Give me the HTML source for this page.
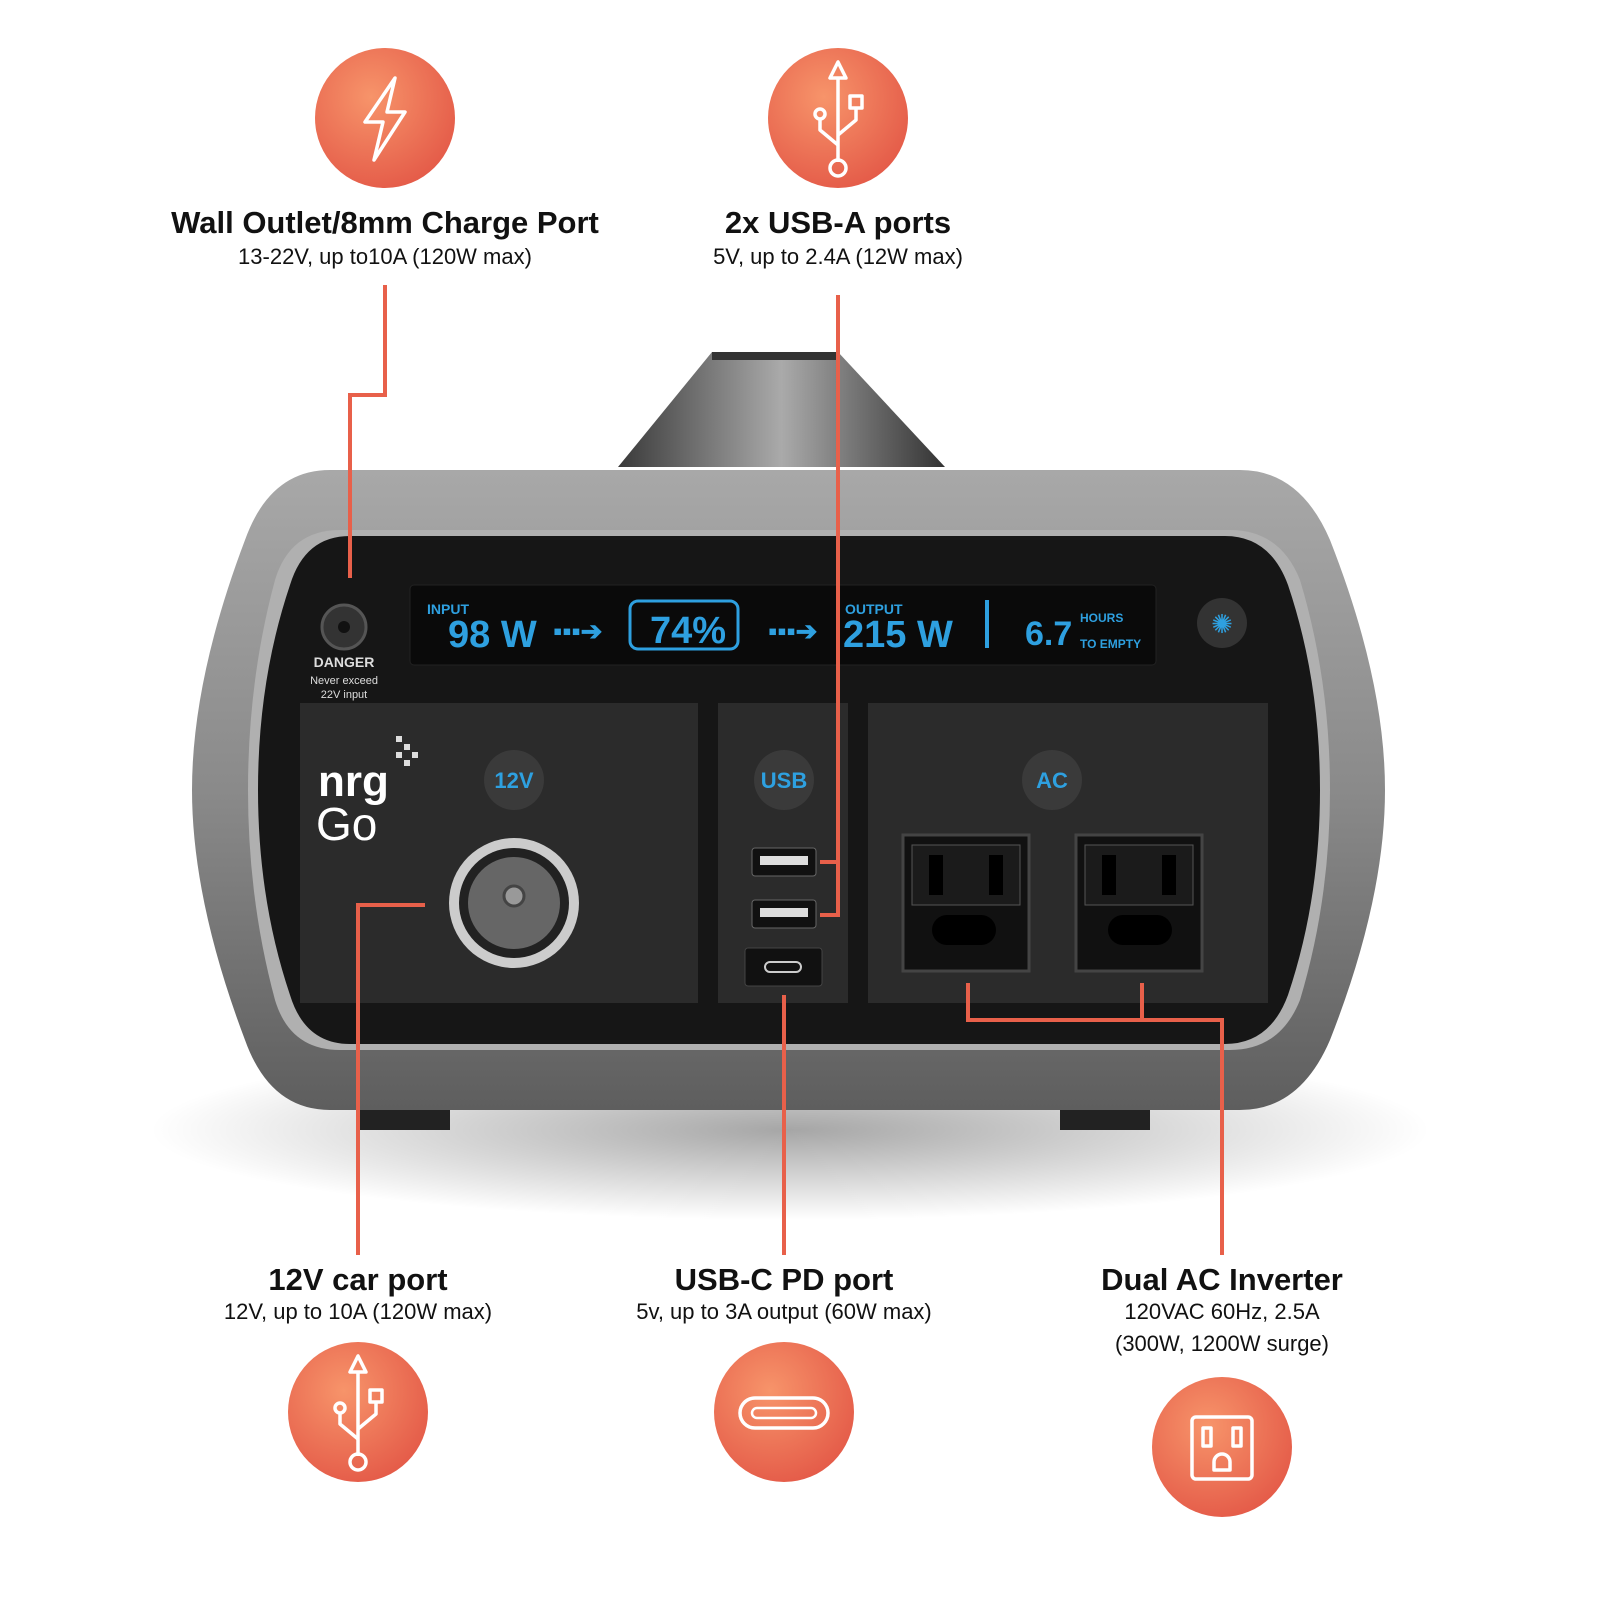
<!DOCTYPE html>
<html><head><meta charset="utf-8"><style>
html,body{margin:0;padding:0;background:#fff;}
svg{display:block}
text{font-family:"Liberation Sans",sans-serif;}
</style></head><body>
<svg width="1600" height="1600" viewBox="0 0 1600 1600" xmlns="http://www.w3.org/2000/svg">
<defs>
<radialGradient id="og" cx="40%" cy="35%" r="70%"><stop offset="0" stop-color="#f7946a"/><stop offset="1" stop-color="#e45a48"/></radialGradient>
<linearGradient id="body" x1="0" y1="0" x2="0" y2="1"><stop offset="0" stop-color="#a8a8a8"/><stop offset="0.5" stop-color="#8a8a8a"/><stop offset="1" stop-color="#5e5e5e"/></linearGradient>
<linearGradient id="handle" x1="0" y1="0" x2="1" y2="0"><stop offset="0" stop-color="#3a3a3a"/><stop offset="0.5" stop-color="#aaa"/><stop offset="1" stop-color="#333"/></linearGradient>
<radialGradient id="shadow" cx="50%" cy="50%" r="50%"><stop offset="0" stop-color="#000" stop-opacity="0.35"/><stop offset="1" stop-color="#000" stop-opacity="0"/></radialGradient>
</defs>

<ellipse cx="790" cy="1130" rx="640" ry="90" fill="url(#shadow)"/>

<polygon points="712,352 838,352 945,467 618,467" fill="url(#handle)"/>
<polygon points="712,352 838,352 838,360 712,360" fill="#333"/>

<path d="M330,470 L1240,470 Q1300,470 1330,540 Q1385,680 1385,790 Q1385,900 1330,1040 Q1300,1110 1240,1110 L330,1110 Q270,1110 245,1040 Q192,900 192,790 Q192,680 245,540 Q270,470 330,470 Z" fill="url(#body)"/>
<path d="M340,530 L1230,530 Q1280,530 1300,580 Q1330,680 1330,790 Q1330,900 1300,1000 Q1280,1050 1230,1050 L340,1050 Q290,1050 275,1000 Q248,900 248,790 Q248,680 275,580 Q290,530 340,530 Z" fill="#b0b0b0"/>
<path d="M350,536 L1225,536 Q1270,536 1288,585 Q1320,680 1320,790 Q1320,900 1288,995 Q1270,1044 1225,1044 L350,1044 Q305,1044 290,995 Q258,900 258,790 Q258,680 290,585 Q305,536 350,536 Z" fill="#161616"/>

<rect x="300" y="703" width="398" height="300" fill="#2b2b2b"/>
<rect x="718" y="703" width="130" height="300" fill="#2b2b2b"/>
<rect x="868" y="703" width="400" height="300" fill="#2b2b2b"/>

<rect x="410" y="585" width="746" height="80" rx="4" fill="#0a0a0a" stroke="#222"/>
<g fill="#2ea0e0" font-weight="bold">
<text x="427" y="614" font-size="14">INPUT</text>
<text x="448" y="647" font-size="38">98 W</text>
<text x="553" y="640" font-size="26">▪▪▪➔</text>
<rect x="630" y="601" width="108" height="48" rx="8" fill="none" stroke="#2ea0e0" stroke-width="3"/>
<text x="650" y="643" font-size="38">74%</text>
<text x="768" y="640" font-size="26">▪▪▪➔</text>
<text x="845" y="614" font-size="14">OUTPUT</text>
<text x="843" y="647" font-size="38">215 W</text>
<rect x="985" y="600" width="4" height="48"/>
<text x="1025" y="645" font-size="34">6.7</text>
<text x="1080" y="622" font-size="12">HOURS</text>
<text x="1080" y="648" font-size="12">TO EMPTY</text>
</g>
<circle cx="1222" cy="623" r="25" fill="#333"/><text x="1222" y="633" font-size="26" fill="#2ea0e0" text-anchor="middle">✺</text>

<circle cx="344" cy="627" r="22" fill="#333" stroke="#555" stroke-width="3"/>
<circle cx="344" cy="627" r="6" fill="#111"/>
<text x="344" y="667" font-size="14" fill="#ddd" text-anchor="middle" font-weight="bold">DANGER</text>
<text x="344" y="684" font-size="11" fill="#ddd" text-anchor="middle">Never exceed</text>
<text x="344" y="698" font-size="11" fill="#ddd" text-anchor="middle">22V input</text>

<text x="318" y="796" font-size="44" fill="#fff" font-weight="bold">nrg</text>
<text x="316" y="840" font-size="46" fill="#fff">Go</text>
<g fill="#ddd"><rect x="396" y="736" width="6" height="6"/><rect x="404" y="744" width="6" height="6"/><rect x="412" y="752" width="6" height="6"/><rect x="404" y="760" width="6" height="6"/><rect x="396" y="752" width="6" height="6"/></g>

<g font-size="22" font-weight="bold" fill="#2ea0e0" text-anchor="middle">
<circle cx="514" cy="780" r="30" fill="#3a3a3a"/><text x="514" y="788">12V</text>
<circle cx="784" cy="780" r="30" fill="#3a3a3a"/><text x="784" y="788">USB</text>
<circle cx="1052" cy="780" r="30" fill="#3a3a3a"/><text x="1052" y="788">AC</text>
</g>

<circle cx="514" cy="903" r="65" fill="#ccc"/>
<circle cx="514" cy="903" r="55" fill="#222"/>
<circle cx="514" cy="903" r="46" fill="#666"/>
<circle cx="514" cy="896" r="10" fill="#999" stroke="#444" stroke-width="3"/>

<rect x="752" y="848" width="64" height="28" rx="3" fill="#111" stroke="#666"/><rect x="760" y="856" width="48" height="9" fill="#ddd"/>
<rect x="752" y="900" width="64" height="28" rx="3" fill="#111" stroke="#666"/><rect x="760" y="908" width="48" height="9" fill="#ddd"/>
<rect x="745" y="948" width="77" height="38" rx="3" fill="#111" stroke="#444"/><rect x="765" y="962" width="36" height="10" rx="5" fill="none" stroke="#ccc" stroke-width="2"/>

<g>
<rect x="903" y="835" width="126" height="136" fill="#111" stroke="#444" stroke-width="3"/>
<rect x="912" y="845" width="108" height="60" fill="#1b1b1b" stroke="#555"/>
<rect x="929" y="855" width="14" height="40" fill="#000"/><rect x="989" y="855" width="14" height="40" fill="#000"/>
<rect x="932" y="915" width="64" height="30" rx="15" fill="#000"/>
<rect x="1076" y="835" width="126" height="136" fill="#111" stroke="#444" stroke-width="3"/>
<rect x="1085" y="845" width="108" height="60" fill="#1b1b1b" stroke="#555"/>
<rect x="1102" y="855" width="14" height="40" fill="#000"/><rect x="1162" y="855" width="14" height="40" fill="#000"/>
<rect x="1108" y="915" width="64" height="30" rx="15" fill="#000"/>
</g>

<rect x="360" y="1110" width="90" height="20" fill="#222"/>
<rect x="1060" y="1110" width="90" height="20" fill="#222"/>

<g stroke="#e8604a" stroke-width="4" fill="none">
<polyline points="385,285 385,395 350,395 350,578"/>
<polyline points="838,295 838,915 820,915"/>
<line x1="820" y1="862" x2="838" y2="862"/>
<polyline points="358,1255 358,905 425,905"/>
<line x1="784" y1="995" x2="784" y2="1255"/>
<polyline points="968,983 968,1020 1222,1020 1222,1255"/>
<line x1="1142" y1="983" x2="1142" y2="1020"/>
</g>

<circle cx="385" cy="118" r="70" fill="url(#og)"/>
<circle cx="838" cy="118" r="70" fill="url(#og)"/>
<circle cx="358" cy="1412" r="70" fill="url(#og)"/>
<circle cx="784" cy="1412" r="70" fill="url(#og)"/>
<circle cx="1222" cy="1447" r="70" fill="url(#og)"/>

<g stroke="#fff" stroke-width="3.5" fill="none" stroke-linejoin="round">
<polygon points="395,78 365,122 383,122 374,160 405,112 387,112"/>
<polygon points="838,62 830,78 846,78"/><line x1="838" y1="78" x2="838" y2="162"/><circle cx="838" cy="168" r="8"/>
<polyline points="838,145 820,130 820,118"/><circle cx="820" cy="114" r="5"/>
<polyline points="838,135 856,120 856,108"/><rect x="850" y="96" width="12" height="12"/>
<polygon points="358,1356 350,1372 366,1372"/><line x1="358" y1="1372" x2="358" y2="1456"/><circle cx="358" cy="1462" r="8"/>
<polyline points="358,1439 340,1424 340,1412"/><circle cx="340" cy="1408" r="5"/>
<polyline points="358,1429 376,1414 376,1402"/><rect x="370" y="1390" width="12" height="12"/>
<rect x="740" y="1398" width="88" height="30" rx="15"/>
<rect x="752" y="1408" width="64" height="10" rx="5" stroke-width="2.5"/>
<rect x="1192" y="1417" width="60" height="62" rx="4"/>
<rect x="1203" y="1428" width="8" height="18"/><rect x="1233" y="1428" width="8" height="18"/>
<path d="M1214,1470 v-8 a8,8 0 0 1 16,0 v8 z"/>
</g>

<g text-anchor="middle" fill="#111">
<text x="385" y="233" font-size="31" font-weight="bold">Wall Outlet/8mm Charge Port</text>
<text x="385" y="264" font-size="22">13-22V, up to10A (120W max)</text>
<text x="838" y="233" font-size="31" font-weight="bold">2x USB-A ports</text>
<text x="838" y="264" font-size="22">5V, up to 2.4A (12W max)</text>
<text x="358" y="1290" font-size="31" font-weight="bold">12V car port</text>
<text x="358" y="1319" font-size="22">12V, up to 10A (120W max)</text>
<text x="784" y="1290" font-size="31" font-weight="bold">USB-C PD port</text>
<text x="784" y="1319" font-size="22">5v, up to 3A output (60W max)</text>
<text x="1222" y="1290" font-size="31" font-weight="bold">Dual AC Inverter</text>
<text x="1222" y="1319" font-size="22">120VAC 60Hz, 2.5A</text>
<text x="1222" y="1351" font-size="22">(300W, 1200W surge)</text>
</g>
</svg>
</body></html>
